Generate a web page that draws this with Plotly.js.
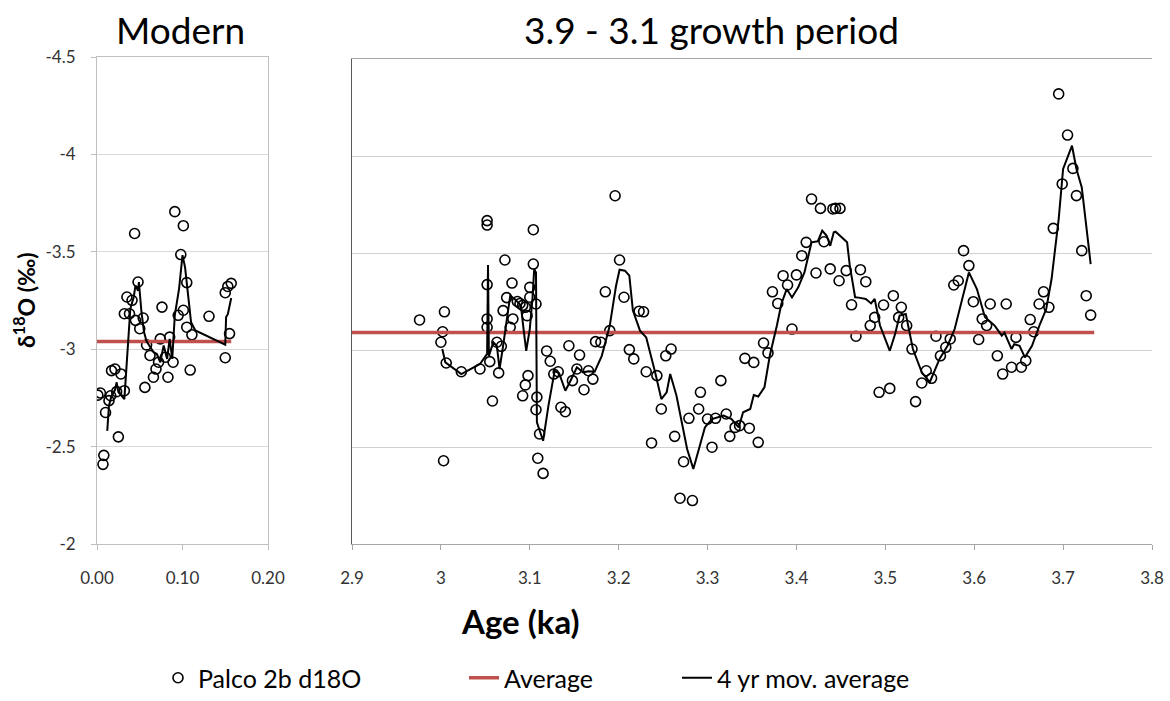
<!DOCTYPE html>
<html>
<head>
<meta charset="utf-8">
<script src="https://cdn.plot.ly/plotly-3.0.1.min.js"></script>
<style>
html,body{margin:0;padding:0;background:#fff;}
#chart{width:1170px;height:701px;}
</style>
</head>
<body>
<div id="chart"></div>
<script>
// ---------- Modern panel data ----------
const modernAge = [0.001,0.004,0.007,0.008,0.010,0.014,0.016,0.017,0.021,0.023,0.025,0.028,0.032,0.032,0.035,0.038,0.041,0.044,0.045,0.048,0.050,0.054,0.056,0.058,0.062,0.066,0.069,0.072,0.074,0.076,0.080,0.083,0.085,0.089,0.091,0.095,0.098,0.101,0.101,0.105,0.105,0.109,0.111,0.131,0.150,0.150,0.153,0.155,0.157];
const modernD18O = [-2.764,-2.775,-2.409,-2.455,-2.675,-2.736,-2.761,-2.89,-2.898,-2.782,-2.55,-2.873,-2.787,-3.182,-3.268,-3.182,-3.251,-3.594,-3.148,-3.345,-3.105,-3.16,-2.804,-3.022,-2.968,-2.856,-2.898,-2.933,-3.053,-3.216,-2.959,-2.856,-3.062,-2.933,-3.706,-3.174,-3.486,-3.634,-3.20,-3.342,-3.113,-2.893,-3.074,-3.169,-2.956,-3.29,-3.322,-3.08,-3.338];
const modernMovAge = [0.012,0.014,0.017,0.021,0.023,0.025,0.032,0.036,0.039,0.043,0.045,0.048,0.049,0.052,0.055,0.058,0.062,0.066,0.070,0.074,0.078,0.082,0.085,0.088,0.091,0.096,0.100,0.103,0.107,0.110,0.115,0.126,0.150,0.151,0.153,0.157];
const modernMov = [-2.581,-2.71,-2.761,-2.79,-2.83,-2.78,-2.744,-3.036,-3.208,-3.268,-3.328,-3.30,-3.345,-3.191,-3.088,-3.04,-3.01,-2.985,-2.975,-2.933,-3.019,-2.95,-3.053,-2.95,-3.174,-3.311,-3.483,-3.42,-3.26,-3.139,-3.096,-3.074,-3.023,-3.165,-3.18,-3.263];
const modernAvgAge = [0.0, 0.157];
const modernAvg = [-3.04, -3.04];

// ---------- 3.9 - 3.1 growth period data ----------
const growthAge = [2.976,3.000,3.002,3.003,3.004,3.006,3.023,3.044,3.052,3.052,3.052,3.052,3.052,3.055,3.058,3.063,3.065,3.068,3.070,3.072,3.074,3.078,3.080,3.081,3.086,3.089,3.092,3.092,3.095,3.095,3.097,3.098,3.100,3.100,3.104,3.104,3.107,3.107,3.108,3.109,3.111,3.115,3.119,3.123,3.127,3.132,3.135,3.140,3.144,3.148,3.153,3.156,3.161,3.166,3.171,3.174,3.180,3.185,3.190,3.196,3.201,3.206,3.212,3.217,3.223,3.228,3.231,3.237,3.243,3.248,3.253,3.259,3.263,3.269,3.273,3.279,3.283,3.290,3.292,3.300,3.305,3.309,3.315,3.321,3.325,3.331,3.336,3.342,3.347,3.352,3.357,3.363,3.368,3.373,3.379,3.385,3.390,3.395,3.400,3.406,3.411,3.417,3.422,3.427,3.431,3.438,3.441,3.444,3.448,3.449,3.456,3.462,3.467,3.472,3.478,3.483,3.488,3.493,3.498,3.505,3.509,3.515,3.518,3.524,3.530,3.534,3.541,3.546,3.552,3.557,3.562,3.568,3.573,3.577,3.582,3.588,3.594,3.599,3.605,3.609,3.614,3.618,3.626,3.632,3.636,3.642,3.647,3.653,3.658,3.663,3.667,3.673,3.678,3.684,3.689,3.695,3.699,3.705,3.711,3.715,3.721,3.726,3.731];
const growthD18O = [-3.155,-3.04,-3.094,-2.429,-3.197,-2.933,-2.888,-2.902,-3.667,-3.644,-3.337,-3.16,-3.117,-2.94,-2.737,-3.04,-2.882,-3.019,-3.203,-3.464,-3.27,-3.117,-3.345,-3.16,-3.25,-3.24,-3.23,-2.764,-3.22,-2.82,-3.177,-2.868,-3.323,-3.272,-3.62,-3.443,-3.237,-2.692,-2.757,-2.442,-2.567,-2.364,-2.995,-2.942,-2.876,-2.888,-2.705,-2.682,-3.022,-2.842,-2.902,-2.974,-2.795,-2.893,-2.85,-3.043,-3.04,-3.30,-3.10,-3.795,-3.464,-3.272,-3.002,-2.954,-3.20,-3.197,-2.888,-2.521,-2.868,-2.696,-2.97,-3.005,-2.555,-2.236,-2.424,-2.648,-2.224,-2.696,-2.782,-2.644,-2.499,-2.648,-2.842,-2.67,-2.555,-2.601,-2.61,-2.957,-2.597,-2.936,-2.524,-3.036,-2.985,-3.30,-3.24,-3.383,-3.335,-3.108,-3.387,-3.486,-3.555,-3.778,-3.397,-3.73,-3.558,-3.418,-3.727,-3.73,-3.357,-3.73,-3.409,-3.233,-3.071,-3.414,-3.352,-3.126,-3.168,-2.782,-3.232,-2.802,-3.28,-3.168,-3.22,-3.126,-3.005,-2.734,-2.83,-2.893,-2.854,-3.071,-2.97,-3.014,-3.057,-3.335,-3.357,-3.512,-3.435,-3.249,-3.054,-3.16,-3.126,-3.237,-2.97,-2.876,-3.237,-2.911,-3.065,-2.911,-2.945,-3.157,-3.094,-3.237,-3.30,-3.22,-3.627,-4.32,-3.856,-4.108,-3.936,-3.796,-3.512,-3.28,-3.18];
const growthMovAge = [3.0016,3.005,3.023,3.044,3.052,3.053,3.054,3.059,3.063,3.066,3.070,3.074,3.078,3.083,3.090,3.093,3.096,3.100,3.103,3.105,3.107,3.108,3.115,3.121,3.128,3.133,3.140,3.145,3.153,3.160,3.166,3.173,3.181,3.190,3.197,3.201,3.207,3.212,3.216,3.224,3.231,3.241,3.248,3.254,3.258,3.265,3.277,3.284,3.297,3.305,3.318,3.327,3.335,3.340,3.348,3.352,3.357,3.364,3.370,3.378,3.383,3.389,3.395,3.402,3.409,3.417,3.424,3.429,3.434,3.438,3.442,3.444,3.449,3.457,3.460,3.466,3.470,3.478,3.484,3.488,3.494,3.505,3.511,3.516,3.523,3.531,3.541,3.550,3.561,3.570,3.578,3.588,3.594,3.603,3.612,3.623,3.631,3.634,3.642,3.645,3.651,3.657,3.665,3.674,3.681,3.687,3.695,3.700,3.705,3.710,3.715,3.721,3.726,3.731];
const growthMov = [-3.005,-2.936,-2.876,-2.928,-2.98,-3.438,-2.97,-3.04,-3.02,-2.902,-3.022,-3.16,-3.28,-3.263,-3.23,-3.108,-2.996,-3.108,-3.263,-3.418,-3.40,-2.627,-2.532,-2.713,-2.893,-2.88,-2.79,-2.834,-2.911,-2.885,-2.89,-2.888,-2.97,-3.126,-3.33,-3.414,-3.409,-3.383,-3.203,-3.10,-3.065,-2.885,-2.747,-2.782,-2.876,-2.765,-2.49,-2.387,-2.601,-2.644,-2.662,-2.644,-2.601,-2.679,-2.696,-2.768,-2.76,-2.808,-2.97,-3.126,-3.237,-3.314,-3.271,-3.323,-3.40,-3.555,-3.56,-3.615,-3.589,-3.537,-3.607,-3.61,-3.59,-3.555,-3.435,-3.272,-3.27,-3.263,-3.24,-3.263,-3.126,-2.996,-3.082,-3.177,-3.186,-3.005,-2.885,-2.834,-2.954,-3.022,-3.108,-3.297,-3.40,-3.314,-3.17,-3.126,-3.074,-3.09,-3.005,-3.03,-3.022,-2.962,-3.022,-3.134,-3.211,-3.366,-3.675,-3.933,-3.993,-4.053,-3.933,-3.838,-3.641,-3.443];
const growthAvgAge = [2.9, 3.735];
const growthAvg = [-3.09, -3.09];

// ---------- ticks & labels ----------
const yTickVals = [-4.5,-4,-3.5,-3,-2.5,-2];
const yTickText = ['-4.5','-4','-3.5','-3','-2.5','-2'];
const modernXTicks = [0, 0.1, 0.2];
const modernXText = ['0.00','0.10','0.20'];
const growthXTicks = [2.9,3.0,3.1,3.2,3.3,3.4,3.5,3.6,3.7,3.8];
const growthXText = ['2.9','3','3.1','3.2','3.3','3.4','3.5','3.6','3.7','3.8'];
const seriesNames = ['Palco 2b d18O','Average','4 yr mov. average'];
const panelTitles = ['Modern','3.9 - 3.1 growth period'];

const FONT = 'Lato, "Open Sans", "Liberation Sans", sans-serif';
const RED = '#c0504d';
const marker = {symbol:'circle-open', size:10, color:'#000', line:{width:1.6, color:'#000'}};

const traces = [
  {x:modernAge, y:modernD18O, xaxis:'x', yaxis:'y', mode:'markers', type:'scatter', marker:marker, name:seriesNames[0], legendgroup:'a', legend:'legend', showlegend:true},
  {x:modernAvgAge, y:modernAvg, xaxis:'x', yaxis:'y', mode:'lines', type:'scatter', line:{color:RED, width:3.5}, name:seriesNames[1], legendgroup:'b', legend:'legend2', showlegend:true},
  {x:modernMovAge, y:modernMov, xaxis:'x', yaxis:'y', mode:'lines', type:'scatter', line:{color:'#000', width:2}, name:seriesNames[2], legendgroup:'c', legend:'legend3', showlegend:true},
  {x:growthAge, y:growthD18O, xaxis:'x2', yaxis:'y2', mode:'markers', type:'scatter', marker:marker, name:seriesNames[0], legendgroup:'a', showlegend:false},
  {x:growthAvgAge, y:growthAvg, xaxis:'x2', yaxis:'y2', mode:'lines', type:'scatter', line:{color:RED, width:3.5}, name:seriesNames[1], legendgroup:'b', showlegend:false},
  {x:growthMovAge, y:growthMov, xaxis:'x2', yaxis:'y2', mode:'lines', type:'scatter', line:{color:'#000', width:2}, name:seriesNames[2], legendgroup:'c', showlegend:false}
];

const W = 1170, H = 701;
const px = v => v / W;
const py = v => (H - v) / H;

const legendBase = {orientation:'h', yanchor:'bottom', y:0, xanchor:'left', bgcolor:'rgba(0,0,0,0)', font:{family:FONT, size:25, color:'#000'}, itemwidth:30};
const tickFont = {family:FONT, size:17, color:'#333'};

const layout = {
  width:W, height:H,
  margin:{l:0, r:0, t:0, b:0, autoexpand:false},
  paper_bgcolor:'#fff', plot_bgcolor:'#fff',
  font:{family:FONT, color:'#000'},
  xaxis:{domain:[px(97), px(268)], anchor:'y', range:[0, 0.2], tickvals:modernXTicks, ticktext:modernXText,
         showgrid:false, zeroline:false, showline:true, mirror:true, linecolor:'#bfbfbf', linewidth:1,
         ticks:'outside', ticklen:5, tickcolor:'#bfbfbf', ticklabelstandoff:14, tickfont:tickFont, automargin:false},
  yaxis:{domain:[py(544), py(57)], anchor:'x', range:[-2, -4.5], tickvals:yTickVals, ticktext:yTickText,
         showgrid:true, gridcolor:'#d9d9d9', zeroline:false, showline:true, mirror:true, linecolor:'#bfbfbf',
         ticks:'outside', ticklen:5, tickcolor:'#bfbfbf', ticklabelstandoff:12, tickfont:tickFont, automargin:false},
  xaxis2:{domain:[px(352), px(1152)], anchor:'y2', range:[2.9, 3.8], tickvals:growthXTicks, ticktext:growthXText,
          showgrid:false, zeroline:false, showline:true, mirror:true, linecolor:'#a6a6a6', linewidth:1,
          ticks:'outside', ticklen:5, tickcolor:'#a6a6a6', ticklabelstandoff:14, tickfont:tickFont, automargin:false},
  yaxis2:{domain:[py(544), py(59)], anchor:'x2', range:[-2, -4.5], tickvals:yTickVals, showticklabels:false,
          showgrid:true, gridcolor:'#d0d0d0', zeroline:false, showline:true, mirror:false, linecolor:'#595959', ticks:'', automargin:false},
  showlegend:true,
  legend:Object.assign({}, legendBase, {x:px(158)}),
  legend2:Object.assign({}, legendBase, {x:px(464)}),
  legend3:Object.assign({}, legendBase, {x:px(677)}),
  annotations:[
    {text:panelTitles[0], xref:'paper', yref:'paper', x:px(180), y:py(30), xanchor:'center', yanchor:'middle', showarrow:false, font:{family:FONT, size:37, color:'#000'}},
    {text:panelTitles[1], xref:'paper', yref:'paper', x:px(712), y:py(30), xanchor:'center', yanchor:'middle', showarrow:false, font:{family:FONT, size:37, color:'#000'}},
    {text:'<b>δ<sup>18</sup>O (‰)</b>', xref:'paper', yref:'paper', x:px(24), y:py(300), xanchor:'center', yanchor:'middle', textangle:-90, showarrow:false, font:{family:FONT, size:23, color:'#000'}},
    {text:'<b>Age (ka)</b>', xref:'paper', yref:'paper', x:px(520), y:py(621), xanchor:'center', yanchor:'middle', showarrow:false, font:{family:FONT, size:33, color:'#000'}}
  ]
};

Plotly.newPlot('chart', traces, layout, {displayModeBar:false, staticPlot:true});
</script>
</body>
</html>
